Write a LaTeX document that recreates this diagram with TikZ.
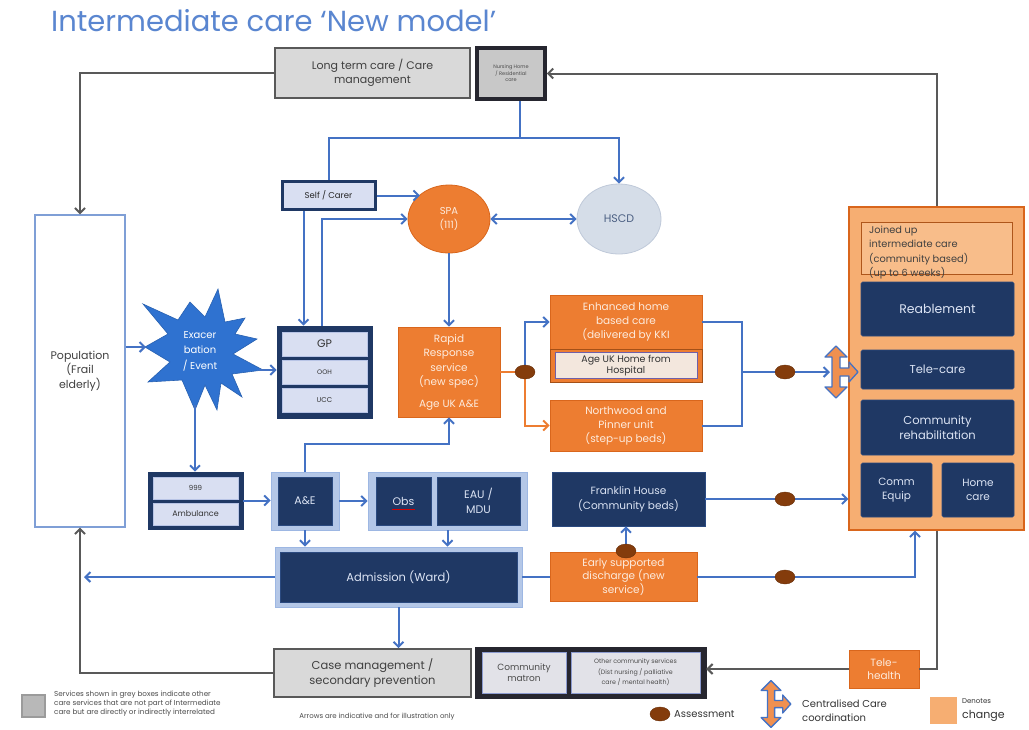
\documentclass[tikz,border=0pt]{standalone}
\usepackage{fontspec}
\setmainfont{Poppins}
\usetikzlibrary{arrows.meta,shapes.geometric,calc}

\definecolor{navy}{HTML}{1F3864}
\definecolor{navyedge}{HTML}{2B4A80}
\definecolor{navytext}{HTML}{DCE4F4}
\definecolor{flowblue}{HTML}{4472C4}
\definecolor{framefill}{HTML}{B4C7E7}
\definecolor{frameedge}{HTML}{9DB7E3}
\definecolor{lav}{HTML}{D9DFF2}
\definecolor{laveedge}{HTML}{B8C4E6}
\definecolor{orng}{HTML}{ED7D31}
\definecolor{orngedge}{HTML}{D9661C}
\definecolor{orngtext}{HTML}{FDEBDD}
\definecolor{orngl}{HTML}{F6AE72}
\definecolor{joinfill}{HTML}{F8BD8A}
\definecolor{brownd}{HTML}{843C0C}
\definecolor{greyfill}{HTML}{D9D9D9}
\definecolor{greyline}{HTML}{595959}
\definecolor{darkframe}{HTML}{26262F}
\definecolor{cellfill}{HTML}{E2E2E8}
\definecolor{celledge}{HTML}{8C9BD0}
\definecolor{starblue}{HTML}{2F72D0}
\definecolor{hscdfill}{HTML}{D5DDE8}
\definecolor{hscdedge}{HTML}{BFC9D9}
\definecolor{titleblue}{HTML}{5A86D0}
\definecolor{popedge}{HTML}{7F9FD6}
\definecolor{ageukfill}{HTML}{F3E7DD}
\definecolor{ageukedge}{HTML}{7060A8}

\tikzset{
  greybox/.style={draw=greyline, fill=greyfill, line width=1.6pt, align=center,
    inner sep=1pt, text=black!75},
  nhbox/.style={draw=darkframe, fill=greyfill!92!black, line width=3.5pt, align=center,
    inner sep=1pt, text=black!70, font=\fontsize{5}{6}\selectfont},
  selfbox/.style={draw=navy, fill=lav, line width=3pt, inner sep=1pt,
    text=black!85, font=\fontsize{8.5}{10}\selectfont},
  navyframe/.style={fill=navy, draw=navy, line width=0.6pt, inner sep=0pt},
  lavrow/.style={fill=lav, draw=laveedge, line width=0.6pt, inner sep=0pt, text=black!80},
  framebox/.style={fill=framefill, draw=frameedge, line width=0.8pt, inner sep=0pt},
  navybox/.style={fill=navy, draw=navyedge, line width=0.6pt, text=navytext,
    align=center, inner sep=1pt},
  orangebox/.style={fill=orng, draw=orngedge, line width=0.8pt, text=orngtext,
    align=center, inner sep=1pt},
  cellbox/.style={fill=cellfill, draw=celledge, line width=0.6pt, align=center,
    inner sep=1pt, text=black!70},
  dotmark/.style={ellipse, fill=brownd, draw=brownd!80!black, line width=0.4pt,
    minimum width=20pt, minimum height=14pt, inner sep=0pt},
  conn/.style={draw=flowblue, line width=2pt},
  arr/.style={conn, -{Straight Barb[length=5pt,width=10pt]}},
  oconn/.style={draw=orng, line width=2pt},
  oarr/.style={oconn, -{Straight Barb[length=5pt,width=10pt]}},
  gconn/.style={draw=greyline, line width=2pt},
  garr/.style={gconn, -{Straight Barb[length=5pt,width=10pt]}},
  pics/coordsym/.style={code={
    \filldraw[fill=orng!85!white, draw=flowblue, line width=1.3pt, line join=round]
      (0,-26) -- (11,-15) -- (4,-15) -- (4,-4) -- (13,-4) -- (13,-10) -- (22,0)
      -- (13,10) -- (13,4) -- (4,4) -- (4,15) -- (11,15) -- (0,26) -- (-11,15)
      -- (-4,15) -- (-4,-15) -- (-11,-15) -- cycle;
  }},
}

\begin{document}
\begin{tikzpicture}[x=1pt,y=-1pt,font=\fontsize{11}{14.5}\selectfont]
\useasboundingbox (0,0) rectangle (1029,729);
\fill[white] (0,0) rectangle (1029,729);

% title
\node[anchor=west, text=titleblue, inner sep=0pt, font=\fontsize{29}{32}\selectfont]
  (title) at (51,21) {Intermediate care ‘New model’};

% ---------- top row
\node[greybox, minimum width=195pt, minimum height=50pt] (ltc) at (372.5,73)
  {Long term care / Care\\management};
\node[nhbox, minimum width=68pt, minimum height=51pt] (nh) at (511,73.5)
  {Nursing Home\\/ Residential\\care};

% ---------- access points
\node[selfbox, minimum width=93pt, minimum height=28pt] (self) at (328.5,195.5) {Self / Carer};
\node[ellipse, fill=orng, draw=orngedge, line width=0.8pt, text=orngtext, align=center,
  minimum width=82pt, minimum height=68pt, inner sep=0pt, font=\fontsize{10}{14}\selectfont]
  (spa) at (449,219) {SPA\\(111)};
\node[ellipse, fill=hscdfill, draw=hscdedge, line width=0.8pt, text=navy!80,
  minimum width=84pt, minimum height=70pt, inner sep=0pt] (hscd) at (619,219) {HSCD};

% ---------- population
\node[fill=white, draw=popedge, line width=1.2pt, align=center, text=black!75,
  minimum width=90pt, minimum height=312pt, inner sep=1pt] (pop) at (80,371)
  {Population\\(Frail\\elderly)};

% ---------- exacerbation starburst
\coordinate (sc) at (200,352);
\filldraw[fill=starblue, draw=starblue!85!black, line width=0.6pt, line join=miter]
  (sc) +(18,-63) -- +(25,-30) -- +(45,-34) -- +(35,-18) -- +(57,-13) -- +(33,2)
  -- +(63,18) -- +(32,22) -- +(42,45) -- +(21,31) -- +(17,58) -- +(5,33)
  -- +(-5,58) -- +(-18,28) -- +(-52,30) -- +(-30,10) -- +(-55,-5) -- +(-32,-18)
  -- +(-57,-48) -- +(-22,-32) -- +(-10,-50) -- +(5,-35) -- cycle;
\node[text=white, align=center, inner sep=0pt, font=\fontsize{10}{15.5}\selectfont]
  (exac) at (200,351) {Exacer\\bation\\/ Event};
\coordinate (starW) at (146,347);
\coordinate (starE) at (259,370);
\coordinate (starS) at (195,405);

% ---------- GP / OOH / UCC
\node[navyframe, minimum width=95pt, minimum height=92pt] (gp) at (324.5,372) {};
\node[lavrow, minimum width=85pt, minimum height=24pt] (gprow) at (324.5,344) {GP};
\node[lavrow, minimum width=85pt, minimum height=24pt, font=\fontsize{6.5}{8}\selectfont]
  (ooh) at (324.5,372) {OOH};
\node[lavrow, minimum width=85pt, minimum height=24pt, font=\fontsize{7}{8}\selectfont]
  (ucc) at (324.5,400) {UCC};

% ---------- 999 / ambulance
\node[navyframe, minimum width=95pt, minimum height=57pt] (ems) at (195.5,500.5) {};
\node[lavrow, minimum width=85pt, minimum height=22pt, font=\fontsize{7}{8}\selectfont]
  (n999) at (195.5,488) {999};
\node[lavrow, minimum width=85pt, minimum height=22pt, font=\fontsize{8}{9}\selectfont]
  (amb) at (195.5,514) {Ambulance};

% ---------- hospital front door
\node[framebox, minimum width=68pt, minimum height=58pt] (aef) at (305,501) {};
\node[navybox, minimum width=54pt, minimum height=48pt] (ae) at (305,501) {A\&E};
\node[framebox, minimum width=159pt, minimum height=58pt] (obsf) at (447.5,501) {};
\node[navybox, minimum width=55pt, minimum height=48pt] (obs) at (403.5,501) {Obs};
\draw[red!85!black, line width=0.7pt] (392,509.5) -- (415,509.5);
\node[navybox, minimum width=83pt, minimum height=48pt] (eau) at (478.5,501) {EAU /\\MDU};
\node[framebox, minimum width=247pt, minimum height=60pt] (admf) at (398.5,577) {};
\node[navybox, minimum width=237pt, minimum height=50pt, font=\fontsize{11.5}{14}\selectfont]
  (adm) at (398.5,577) {Admission (Ward)};

% ---------- bottom services
\node[greybox, minimum width=197pt, minimum height=48pt, font=\fontsize{11.5}{14.5}\selectfont]
  (cm) at (372.5,673) {Case management /\\secondary prevention};
\node[fill=darkframe, draw=darkframe, minimum width=231pt, minimum height=51pt, inner sep=0pt]
  (cg) at (590.5,672.5) {};
\node[cellbox, minimum width=84pt, minimum height=41pt, font=\fontsize{9}{11.5}\selectfont]
  (matron) at (524,672.5) {Community\\matron};
\node[cellbox, minimum width=129pt, minimum height=41pt, font=\fontsize{6.3}{10.5}\selectfont]
  (other) at (635.5,672.5) {Other community services\\(Dist nursing / palliative\\care / mental health)};
\node[orangebox, minimum width=70pt, minimum height=38pt, font=\fontsize{10.5}{13}\selectfont]
  (th) at (884,669) {Tele-\\health};

% ---------- rapid response and step-up
\node[orangebox, minimum width=102pt, minimum height=90pt, font=\fontsize{10.5}{14.5}\selectfont]
  (rr) at (449,372) {Rapid\\Response\\service\\(new spec)\\[7pt]Age UK A\&E};
\node[orangebox, minimum width=152pt, minimum height=54pt, font=\fontsize{10.5}{14}\selectfont]
  (enh) at (626,322) {Enhanced home\\based care\\(delivered by KKI};
\node[orangebox, draw=brownd!70!orng, minimum width=152pt, minimum height=33pt] (enhb) at (626,365.5) {};
\node[fill=ageukfill, draw=ageukedge, line width=0.6pt, align=center, text=black!80,
  minimum width=142pt, minimum height=26pt, inner sep=0pt, font=\fontsize{9.5}{11.5}\selectfont]
  (ageuk) at (626,365.5) {Age UK Home from\\Hospital};
\node[orangebox, minimum width=152pt, minimum height=51pt, font=\fontsize{10.5}{14}\selectfont]
  (nw) at (626,425.5) {Northwood and\\Pinner unit\\(step-up beds)};
\node[navybox, minimum width=153pt, minimum height=54pt, font=\fontsize{10.5}{15}\selectfont]
  (fr) at (628.5,499) {Franklin House\\(Community beds)};
\node[orangebox, minimum width=147pt, minimum height=49pt, font=\fontsize{10.5}{13.5}\selectfont]
  (esd) at (623.5,577) {Early supported\\discharge (new\\service)};

% ---------- joined up intermediate care
\node[fill=orngl, draw=orngedge, line width=1.2pt, minimum width=175pt, minimum height=323pt,
  inner sep=0pt] (oc) at (936.5,368.5) {};
\node[fill=joinfill, draw=brownd!60!orng, line width=0.6pt, minimum width=151pt,
  minimum height=52pt, inner sep=0pt] (join) at (936.5,248) {};
\node[anchor=north west, align=left, inner sep=0pt, text=black!75,
  font=\fontsize{9.8}{14.2}\selectfont] (jointxt) at (869,226)
  {Joined up\\intermediate care\\(community based)\\(up to 6 weeks)};
\node[navybox, rounded corners=1.5pt, minimum width=153pt, minimum height=54pt,
  font=\fontsize{12.5}{15}\selectfont] (reab) at (937.5,309) {Reablement};
\node[navybox, rounded corners=1.5pt, minimum width=153pt, minimum height=39pt,
  font=\fontsize{11.5}{14}\selectfont] (telecare) at (937.5,369.5) {Tele-care};
\node[navybox, rounded corners=1.5pt, minimum width=153pt, minimum height=55pt,
  font=\fontsize{11.5}{15}\selectfont] (rehab) at (937.5,427.5) {Community\\rehabilitation};
\node[navybox, rounded corners=1.5pt, minimum width=71pt, minimum height=54pt,
  font=\fontsize{10.5}{14.5}\selectfont] (equip) at (896.5,490) {Comm\\Equip};
\node[navybox, rounded corners=1.5pt, minimum width=72pt, minimum height=54pt,
  font=\fontsize{10.5}{14.5}\selectfont] (homec) at (978,490) {Home\\care};

% ---------- grey feedback loops
\draw[garr] (ltc.west) -| (pop.north);
\draw[garr] (oc.north) |- (nh.east);
\draw[gconn] (oc.south) |- (th.east);
\draw[garr] (th.west) -- (th.west -| cg.east);
\draw[garr] (cm.west) -| (pop.south);

% ---------- blue flows
\coordinate (jt) at (520,138);
\draw[conn] ([xshift=9pt]nh.south) -- (jt);
\draw[conn] (jt) -| (self.north);
\draw[arr] (jt) -| (hscd.north);
\draw[arr] (self.east) -- (self.east -| spa.140);
\draw[arr] ([xshift=-2.5pt]gp.north) |- (spa.west);
\draw[arr] ([xshift=-25pt]self.south) -- ([xshift=-25pt]self.south |- gp.north);
\draw[conn, {Straight Barb[length=5pt,width=10pt]}-{Straight Barb[length=5pt,width=10pt]}]
  (spa.east) -- (hscd.west);
\draw[arr] (spa.south) -- (rr.north);

\draw[arr] (pop.east |- starW) -- (starW);
\draw[arr] (starE) -- (starE -| gp.west);
\draw[arr] (starS) -- (starS |- ems.north);

\draw[arr] (ems.east) -- (ems.east -| aef.west);
\draw[arr] (aef.east) -- (aef.east -| obsf.west);
\draw[arr] (aef.north) -- ++(0,-28) -| (rr.south);
\draw[arr] (aef.south) -- (aef.south |- admf.north);
\draw[arr] (obsf.south) -- (obsf.south |- admf.north);
\coordinate (admL) at (84,577);
\draw[arr] (admf.west) -- (admL);
\draw[arr] (admf.south) -- (admf.south |- cm.north);
\draw[conn] (admf.east) -- (esd.west);

% step-up branch with assessment points
\coordinate (d1c) at (525,372);
\draw[oconn] (rr.east) -- (d1c);
\draw[arr] (d1c) |- (enh.west);
\draw[oarr] (d1c) |- (nw.west);
\coordinate (j2) at (742,372);
\coordinate (cs) at (830,372);
\draw[conn] (enh.east) -| (j2) |- (nw.east);
\draw[arr] (j2) -- (cs);
\draw[arr] (fr.east) -- (fr.east -| oc.west);
\coordinate (d5c) at (626,551);
\draw[arr] (d5c) -- (d5c |- fr.south);
\draw[arr] (esd.east) -| ([xshift=-21.5pt]oc.south);

\node[dotmark] (d1) at (d1c) {};
\node[dotmark] (d2) at (785,372) {};
\node[dotmark] (d3) at (785,499) {};
\node[dotmark] (d4) at (785,577) {};
\node[dotmark] (d5) at (d5c) {};

\pic at (836,372) {coordsym};

% ---------- key
\node[fill=greyfill!85!black, draw=greyline!60, line width=1.5pt, minimum width=23pt,
  minimum height=22pt, inner sep=0pt] (lgsq) at (33.5,706) {};
\node[anchor=west, align=left, inner sep=0pt, text=black!70, font=\fontsize{7.2}{9}\selectfont]
  (lgtxt) at (54,704)
  {Services shown in grey boxes indicate other\\care services that are not part of Intermediate\\care but are directly or indirectly interrelated};
\node[inner sep=0pt, text=black!70, font=\fontsize{7}{8}\selectfont] (arrnote) at (377,717)
  {Arrows are indicative and for illustration only};
\node[dotmark] (lgdot) at (660,714) {};
\node[anchor=west, inner sep=0pt, text=black!80, font=\fontsize{10}{12}\selectfont]
  (lgassess) at (674,714) {Assessment};
\pic[scale=0.9] at (771,704) {coordsym};
\node[anchor=west, align=left, inner sep=0pt, text=black!80, font=\fontsize{10}{14}\selectfont]
  (lgcc) at (802,711) {Centralised Care\\coordination};
\node[fill=orngl, minimum width=27pt, minimum height=27pt, inner sep=0pt] (lgor) at (943,710) {};
\node[anchor=west, align=left, inner sep=0pt, text=black!80] (lgch) at (962,710)
  {{\fontsize{7}{10}\selectfont Denotes}\\{\fontsize{11}{12}\selectfont change}};
\end{tikzpicture}
\end{document}
